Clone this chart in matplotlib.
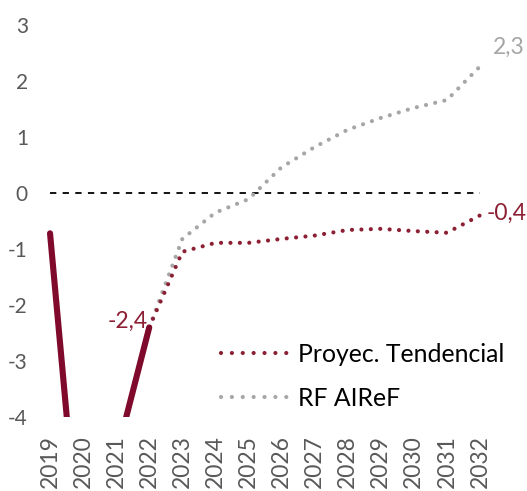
import matplotlib as mpl
mpl.use('Agg')

import numpy as np
import matplotlib.pyplot as plt
from matplotlib.lines import Line2D

# data
years = list(range(2019, 2033))
hist_years = [2019, 2020, 2021, 2022]
hist_vals = [-0.72, -7.2, -4.7, -2.4]
proj_years = list(range(2022, 2033))
tendencial = [-2.4, -1.05, -0.89, -0.89, -0.82, -0.76, -0.66, -0.64, -0.68, -0.71, -0.4]
rf_airef = [-2.4, -0.82, -0.35, -0.11, 0.46, 0.82, 1.13, 1.34, 1.52, 1.66, 2.26]
yticks = [-4, -3, -2, -1, 0, 1, 2, 3]

RED_SOLID = '#7f0a2c'
RED = '#8c1f33'
GREY = '#a6a6a6'
TICK = '#595959'

plt.rcParams['font.family'] = ['Lato', 'DejaVu Sans']

W, H = 527, 491
fig = plt.figure(figsize=(W / 100, H / 100), dpi=100)
# axes box in pixels: left 33.5, right 496.5, top 25, bottom 417
ax = fig.add_axes([33.5 / W, (H - 417) / H, 463 / W, 392 / H])

dot = (0, (0.01, 2.25))

ax.hlines(0, years[0], years[-1], colors='black', linestyles=(0, (3.5, 3.5)), lw=1.3)
ax.plot(proj_years, rf_airef, color=GREY, lw=3.0, linestyle=dot,
        dash_capstyle='round')
ax.plot(proj_years, tendencial, color=RED, lw=3.0, linestyle=dot,
        dash_capstyle='round')
ax.plot(hist_years, hist_vals, color=RED_SOLID, lw=4.4,
        solid_capstyle='round', solid_joinstyle='round')

ax.set_xlim(2018.5, 2032.5)
ax.set_ylim(-4, 3)
ax.set_yticks(yticks)
ax.set_yticklabels([str(v) for v in yticks])
ax.set_xticks(years)
ax.set_xticklabels([str(y) for y in years], rotation=90)
ax.tick_params(axis='y', length=0, pad=4, labelsize=15, labelcolor=TICK)
ax.tick_params(axis='x', length=0, pad=13, labelsize=16.5, labelcolor=TICK)
for s in ax.spines.values():
    s.set_visible(False)

# value labels
ax.text(2021.95, -2.3, '-2,4', color=RED, fontsize=16.5, ha='right', va='center')
ax.text(2032.2, -0.36, '-0,4', color=RED, fontsize=16.5, ha='left', va='center')
ax.text(2032.4, 2.6, '2,3', color=GREY, fontsize=16.5, ha='left', va='center')

handles = [
    Line2D([], [], color=RED, lw=3.0, linestyle=(0, (0.01, 2.6)), dash_capstyle='round'),
    Line2D([], [], color=GREY, lw=3.0, linestyle=(0, (0.01, 2.6)), dash_capstyle='round'),
]
ax.legend(handles, ['Proyec. Tendencial', 'RF AIReF'], loc='upper left',
          bbox_to_anchor=(0.405, 0.19), frameon=False, fontsize=17.8,
          handlelength=2.7, handletextpad=0.4, labelspacing=0.85, borderpad=0,
          borderaxespad=0)

fig.savefig('out.png', dpi=100)
